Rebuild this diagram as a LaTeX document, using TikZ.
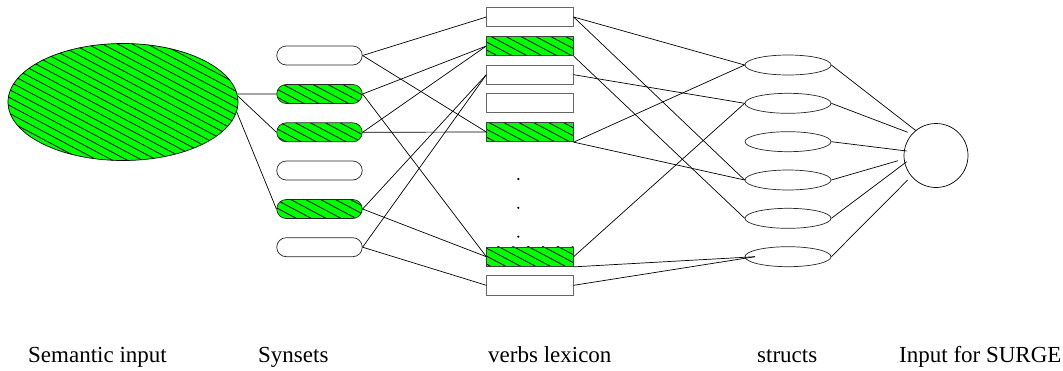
\documentclass[tikz,border=0pt]{standalone}
\usepackage{fontspec}
\setmainfont{Liberation Serif}
\usetikzlibrary{patterns.meta,shapes.geometric}
\begin{document}
\begin{tikzpicture}[x=1pt,y=-1pt,
  conn/.style={line width=0.7pt, draw=black},
  hatch/.style={preaction={fill=green}, pattern={Lines[angle=-28,distance=7pt,line width=0.8pt]}, pattern color=black},
  syn/.style={draw=black!85, line width=0.7pt, rounded corners=9.5pt, minimum width=85.5pt, minimum height=19pt, inner sep=0pt},
  verb/.style={draw=black!60, line width=0.8pt, minimum width=86.5pt, minimum height=19.5pt, inner sep=0pt},
  strct/.style={draw=black!85, line width=0.7pt, ellipse, minimum width=86pt, minimum height=20pt, inner sep=0pt},
  lbl/.style={anchor=base west, inner sep=0pt, font=\fontsize{23}{26}\selectfont}
  ]
\useasboundingbox (0,0) rectangle (1063,370);

% semantic input
\node[draw=black, line width=0.7pt, ellipse, minimum width=230pt, minimum height=117pt, inner sep=0pt, hatch] (sem) at (123,102) {};

% synsets
\node[syn] (y1) at (319.5,55.5) {};
\node[syn,hatch] (y2) at (319.5,94) {};
\node[syn,hatch] (y3) at (319.5,132.3) {};
\node[syn] (y4) at (319.5,170.5) {};
\node[syn,hatch] (y5) at (319.5,209) {};
\node[syn] (y6) at (319.5,247.2) {};

% verbs lexicon
\node[verb] (v1) at (530,17) {};
\node[verb,hatch,draw=black!75] (v2) at (530,46) {};
\node[verb] (v3) at (530,74.7) {};
\node[verb] (v4) at (530,103) {};
\node[verb,hatch,draw=black!75] (v5) at (530,132) {};
\node[verb,hatch,draw=black!75] (v6) at (530,256.7) {};
\node[verb] (v7) at (530,285.3) {};
\fill (518.3,179) circle (1.2pt);
\fill (518.3,207.8) circle (1.2pt);
\fill (518.3,236.7) circle (1.2pt);

% structs
\node[strct] (s1) at (788,65) {};
\node[strct] (s2) at (788,103.3) {};
\node[strct] (s3) at (788,141.7) {};
\node[strct] (s4) at (788,180) {};
\node[strct] (s5) at (788,218.3) {};
\node[strct] (s6) at (788,256.7) {};
\coordinate (s6in) at (755,256.7);

% input for SURGE
\node[draw=black, line width=0.7pt, circle, minimum size=64pt, inner sep=0pt] (surge) at (936,155.5) {};
\coordinate (c1) at (916,130.7);
\coordinate (c2) at (907.7,132.3);
\coordinate (c3) at (906.7,151);
\coordinate (c4) at (898,160.7);
\coordinate (c5) at (906.7,161.7);
\coordinate (c6) at (907.7,180);

% semantic -> synsets
\draw[conn] (sem.4) -- (y2.west);
\draw[conn] (sem.3.5) -- (y3.west);
\draw[conn] (sem.-5) -- (y5.west);

% synsets -> verbs
\draw[conn] (y1.east) -- (v1.west);
\draw[conn] (y1.east) -- (v5.west);
\draw[conn] (y2.east) -- (v2.west);
\draw[conn] (y2.east) -- (v6.west);
\draw[conn] (y3.east) -- (v2.west);
\draw[conn] (y3.east) -- (v5.west);
\draw[conn] (y5.east) -- (v3.west);
\draw[conn] (y5.east) -- (v6.west);
\draw[conn] (y6.east) -- (v3.west);
\draw[conn] (y6.east) -- (v7.west);

% verbs -> structs
\draw[conn] (v1.east) -- (s1.west);
\draw[conn] (v1.east) -- (s4.west);
\draw[conn] (v2.south east) -- (s5.west);
\draw[conn] (v3.east) -- (s2.west);
\draw[conn] (v5.south east) -- (s1.west);
\draw[conn] (v5.south east) -- (s4.west);
\draw[conn] (v6.east) -- (s2.west);
\draw[conn] (v6.south east) -- (s6in);
\draw[conn] (v7.east) -- (s6in);

% structs -> surge
\draw[conn] (s1.east) -- (c1);
\draw[conn] (s2.east) -- (c2);
\draw[conn] (s3.east) -- (c3);
\draw[conn] (s4.east) -- (c4);
\draw[conn] (s5.east) -- (c5);
\draw[conn] (s6.east) -- (c6);

% labels
\node[lbl] (l1) at (28,362) {Semantic input};
\node[lbl] (l2) at (258,362) {Synsets};
\node[lbl] (l3) at (488,362) {verbs lexicon};
\node[lbl] (l4) at (757,362) {structs};
\node[lbl] (l5) at (899,362) {Input for SURGE};
\end{tikzpicture}
\end{document}
